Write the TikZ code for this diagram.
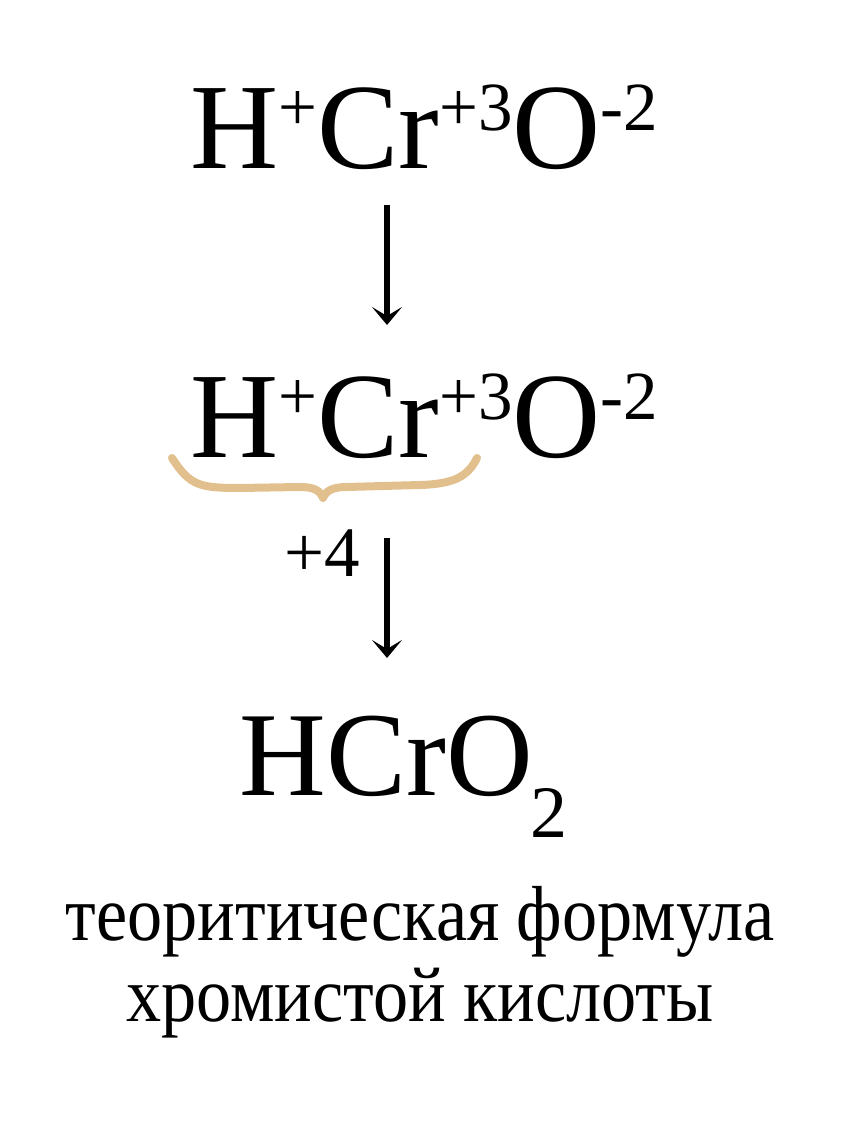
\documentclass[tikz,border=0pt]{standalone}
\usepackage{fontspec}
\setmainfont{Liberation Serif}
\usepackage{tikz}
\usetikzlibrary{arrows.meta, positioning, calc}
\definecolor{bracetan}{RGB}{226, 192, 142}

% charge written above the line, and index written below it
\newcommand{\chg}[1]{\raisebox{19pt}{\fontsize{34.5}{34.5}\selectfont #1}}
\newcommand{\idx}[1]{\raisebox{-21pt}{\fontsize{37}{37}\selectfont #1}}

\begin{document}
\begin{tikzpicture}[x=0.5pt, y=0.5pt,
    formula/.style={inner sep=0pt, anchor=base west, font=\fontsize{61}{61}\selectfont},
    reaction/.style={line width=3pt, -{Stealth[length=9pt, width=15pt, inset=4.5pt]}},
    note/.style={inner sep=0pt, anchor=base, font=\fontsize{39}{39}\selectfont}]
  \useasboundingbox (0,0) rectangle (852,1136);

  % oxidation states
  \node[formula] (acidA) at (190,967) {H\chg{+}Cr\chg{+3}O\chg{-2}};
  \node[formula] (acidB) at (190,678) {H\chg{+}Cr\chg{+3}O\chg{-2}};
  \node[inner sep=0pt, anchor=base west, font=\fontsize{35.5}{35.5}\selectfont] (sumHCr) at (284,559) {+4};
  \node[formula, font=\fontsize{60}{60}\selectfont] (acidC) at (239,340) {HCrO\kern-1pt\idx{2}};

  % arrows
  \coordinate (a1top) at (387,931);
  \coordinate (a1bot) at (387,811);
  \coordinate (a2top) at (387,598);
  \coordinate (a2bot) at (387,478);
  \draw[reaction] (a1top) -- (a1bot);
  \draw[reaction] (a2top) -- (a2bot);

  % brace under H and Cr
  \draw[bracetan, line width=4pt, line cap=round, line join=round]
    (172,678) .. controls (190,650) and (200,648) .. (240,648)
    -- (300,649) .. controls (315,649) and (320,645) .. (323,638)
    .. controls (326,645) and (332,649) .. (347,649)
    -- (420,651) .. controls (455,652) and (468,660) .. (477,678);

  % caption
  \node[note] (capA) at (420,195) {\scalebox{0.9}[1]{теоритическая формула}};
  \node[note] (capB) at (420,114) {\scalebox{0.9}[1]{хромистой кислоты}};
\end{tikzpicture}
\end{document}
